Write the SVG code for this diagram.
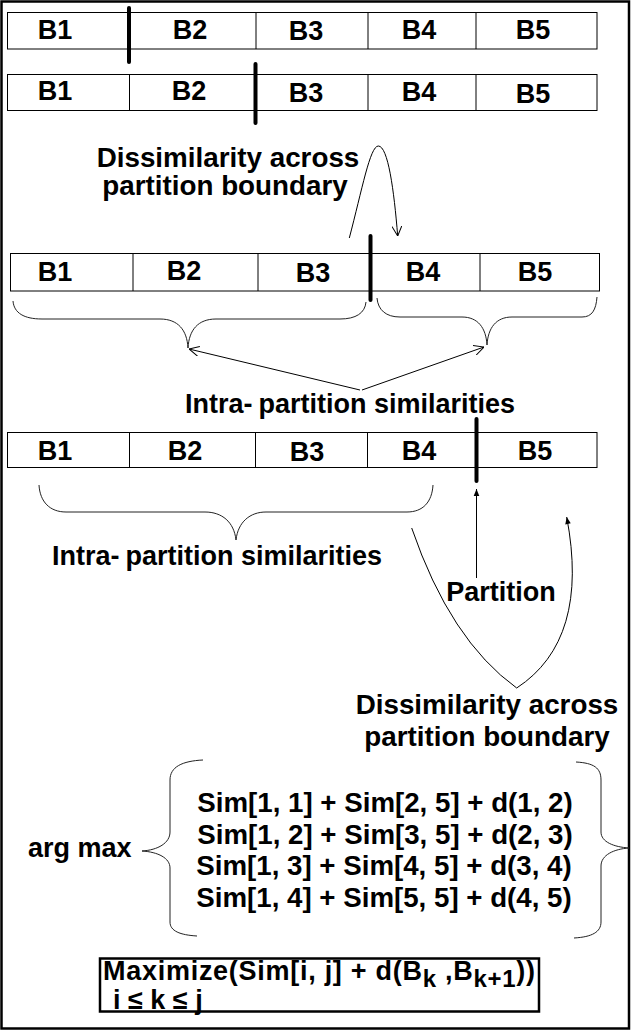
<svg xmlns="http://www.w3.org/2000/svg" width="632" height="1031" viewBox="0 0 632 1031">
<defs>
<style>
text{font-family:"Liberation Sans",Arial,sans-serif;font-weight:bold;font-size:27px;fill:#000}
.cell{fill:#fff;stroke:#000;stroke-width:1}
.div{stroke:#000;stroke-width:1}
.bar{stroke:#000;stroke-width:4;stroke-linecap:round}
.thin{fill:none;stroke:#000;stroke-width:1}
.brace{fill:none;stroke:#222;stroke-width:1}
.m{text-anchor:middle}
.dis{font-size:27.8px}
.sim{font-size:27.7px}
</style>
<marker id="openV" viewBox="0 0 10 10" refX="10" refY="5" markerWidth="10" markerHeight="10" markerUnits="userSpaceOnUse" orient="auto">
<path d="M0,0 L10,5 L0,10" fill="none" stroke="#000" stroke-width="1"/>
</marker>
<marker id="solid" viewBox="0 0 10 10" refX="10" refY="5" markerWidth="8" markerHeight="7" markerUnits="userSpaceOnUse" orient="auto">
<path d="M0,1 L10,5 L0,9 Z" fill="#000"/>
</marker>
</defs>
<rect x="1.5" y="1.5" width="627.5" height="1027" fill="#fff" stroke="#000" stroke-width="2.5"/>

<g id="row1">
<rect class="cell" x="7.5" y="12.5" width="589.5" height="36.5"/>
<line class="div" x1="256" y1="12.5" x2="256" y2="49"/>
<line class="div" x1="368" y1="12.5" x2="368" y2="49"/>
<line class="div" x1="476" y1="12.5" x2="476" y2="49"/>
<line class="bar" x1="129" y1="8" x2="129" y2="62"/>
<text class="m" x="55" y="39">B1</text>
<text class="m" x="190" y="39">B2</text>
<text class="m" x="306" y="40">B3</text>
<text class="m" x="419" y="39">B4</text>
<text class="m" x="533" y="39">B5</text>
</g>

<g id="row2">
<rect class="cell" x="7.5" y="74.5" width="589.5" height="36"/>
<line class="div" x1="129.5" y1="74.5" x2="129.5" y2="110.5"/>
<line class="div" x1="368" y1="74.5" x2="368" y2="110.5"/>
<line class="div" x1="476" y1="74.5" x2="476" y2="110.5"/>
<line class="bar" x1="255.5" y1="64" x2="255.5" y2="123"/>
<text class="m" x="55" y="100">B1</text>
<text class="m" x="189" y="100">B2</text>
<text class="m" x="306" y="102">B3</text>
<text class="m" x="419" y="101">B4</text>
<text class="m" x="533" y="103">B5</text>
</g>

<g id="label-dissim-top">
<text class="m dis" x="228" y="167">Dissimilarity across</text>
<text class="m dis" x="225" y="195">partition boundary</text>
</g>

<g id="row3">
<rect class="cell" x="10.5" y="253.5" width="589" height="37.5"/>
<line class="div" x1="133" y1="253.5" x2="133" y2="291"/>
<line class="div" x1="258" y1="253.5" x2="258" y2="291"/>
<line class="div" x1="480" y1="253.5" x2="480" y2="291"/>
<line class="bar" x1="370.5" y1="236" x2="370.5" y2="300"/>
<text class="m" x="55" y="281">B1</text>
<text class="m" x="184" y="280">B2</text>
<text class="m" x="313" y="282">B3</text>
<text class="m" x="423" y="281">B4</text>
<text class="m" x="535" y="281">B5</text>
</g>

<g id="braces-row3">
<path class="brace" d="M13,301 C14,313 24,319 42,319 L160,319 C178,319 187,330 188,348 C189,330 198,319 216,319 L340,319 C356,319 365,313 366,302"/>
<path class="brace" d="M377,298 C378,310 386,317 400,317 L462,317 C478,317 486,328 487,345 C488,328 496,317 512,317 L582,317 C592,317 596,310 597,297"/>
</g>

<g id="label-intra-1">
<text x="185" y="413">Intra-<tspan dx="6">partition similarities</tspan></text>
</g>

<g id="row4">
<rect class="cell" x="7.5" y="432.5" width="589.5" height="35"/>
<line class="div" x1="129.5" y1="432.5" x2="129.5" y2="467.5"/>
<line class="div" x1="255.5" y1="432.5" x2="255.5" y2="467.5"/>
<line class="div" x1="367.5" y1="432.5" x2="367.5" y2="467.5"/>
<line class="bar" x1="476.5" y1="419" x2="476.5" y2="481"/>
<text class="m" x="55" y="460">B1</text>
<text class="m" x="185" y="460">B2</text>
<text class="m" x="307" y="461">B3</text>
<text class="m" x="419" y="460">B4</text>
<text class="m" x="535" y="460">B5</text>
</g>

<g id="brace-row4">
<path class="brace" d="M39,485 C40,502 50,512 66,512 L205,512 C222,512 234,522 236,540 C238,522 250,512 266,512 L407,512 C423,512 432,502 433,485"/>
</g>

<g id="label-intra-2">
<text x="52" y="565">Intra-<tspan dx="6">partition similarities</tspan></text>
</g>

<g id="label-partition">
<text class="m" x="501" y="601">Partition</text>
</g>

<g id="label-dissim-bottom">
<text class="m dis" x="487" y="714">Dissimilarity across</text>
<text class="m dis" x="487" y="746">partition boundary</text>
</g>

<g id="connectors">
<path class="thin" d="M349.3,238 C362,190 370,146 378.3,146 C388,146 394,190 397.7,236" marker-end="url(#openV)"/>
<line class="thin" x1="360" y1="390" x2="189" y2="349" marker-end="url(#openV)"/>
<line class="thin" x1="362" y1="390" x2="484" y2="347" marker-end="url(#openV)"/>
<line class="thin" x1="476.5" y1="578" x2="476.5" y2="489" marker-end="url(#solid)"/>
<path class="thin" d="M411.7,528 Q450,640 516.7,688 Q590,640 566.7,517" marker-end="url(#solid)"/>
</g>

<g id="argmax">
<text x="28" y="857">arg max</text>
<path class="brace" d="M203,760 C182,761 170,767 170,780 L170,832 C170,843 158,850 142,851 C158,852 170,858 170,868 L170,922 C170,931 180,935 197,936"/>
<path class="brace" d="M576,762 C594,763 601,768 601,780 L601,832 C601,842 614,847 629,848 C614,849 601,855 601,866 L601,922 C601,932 592,937 574,938"/>
<text class="m sim" x="385" y="812">Sim[1, 1] + Sim[2, 5] + d(1, 2)</text>
<text class="m sim" x="385" y="843.5">Sim[1, 2] + Sim[3, 5] + d(2, 3)</text>
<text class="m sim" x="384" y="875">Sim[1, 3] + Sim[4, 5] + d(3, 4)</text>
<text class="m sim" x="384" y="906.5">Sim[1, 4] + Sim[5, 5] + d(4, 5)</text>
</g>

<g id="formula-box">
<rect x="100" y="958.5" width="439" height="53" fill="#fff" stroke="#000" stroke-width="2.5"/>
<text x="103" y="980" font-size="28.5" textLength="432" lengthAdjust="spacing">Maximize(Sim[i, j] + d(B<tspan font-size="24" dy="7">k</tspan><tspan dy="-7"> ,B</tspan><tspan font-size="24" dy="7">k+1</tspan><tspan dy="-7">))</tspan></text>
<text x="113" y="1008.5" font-size="25">i ≤ k ≤ j</text>
</g>
</svg>
